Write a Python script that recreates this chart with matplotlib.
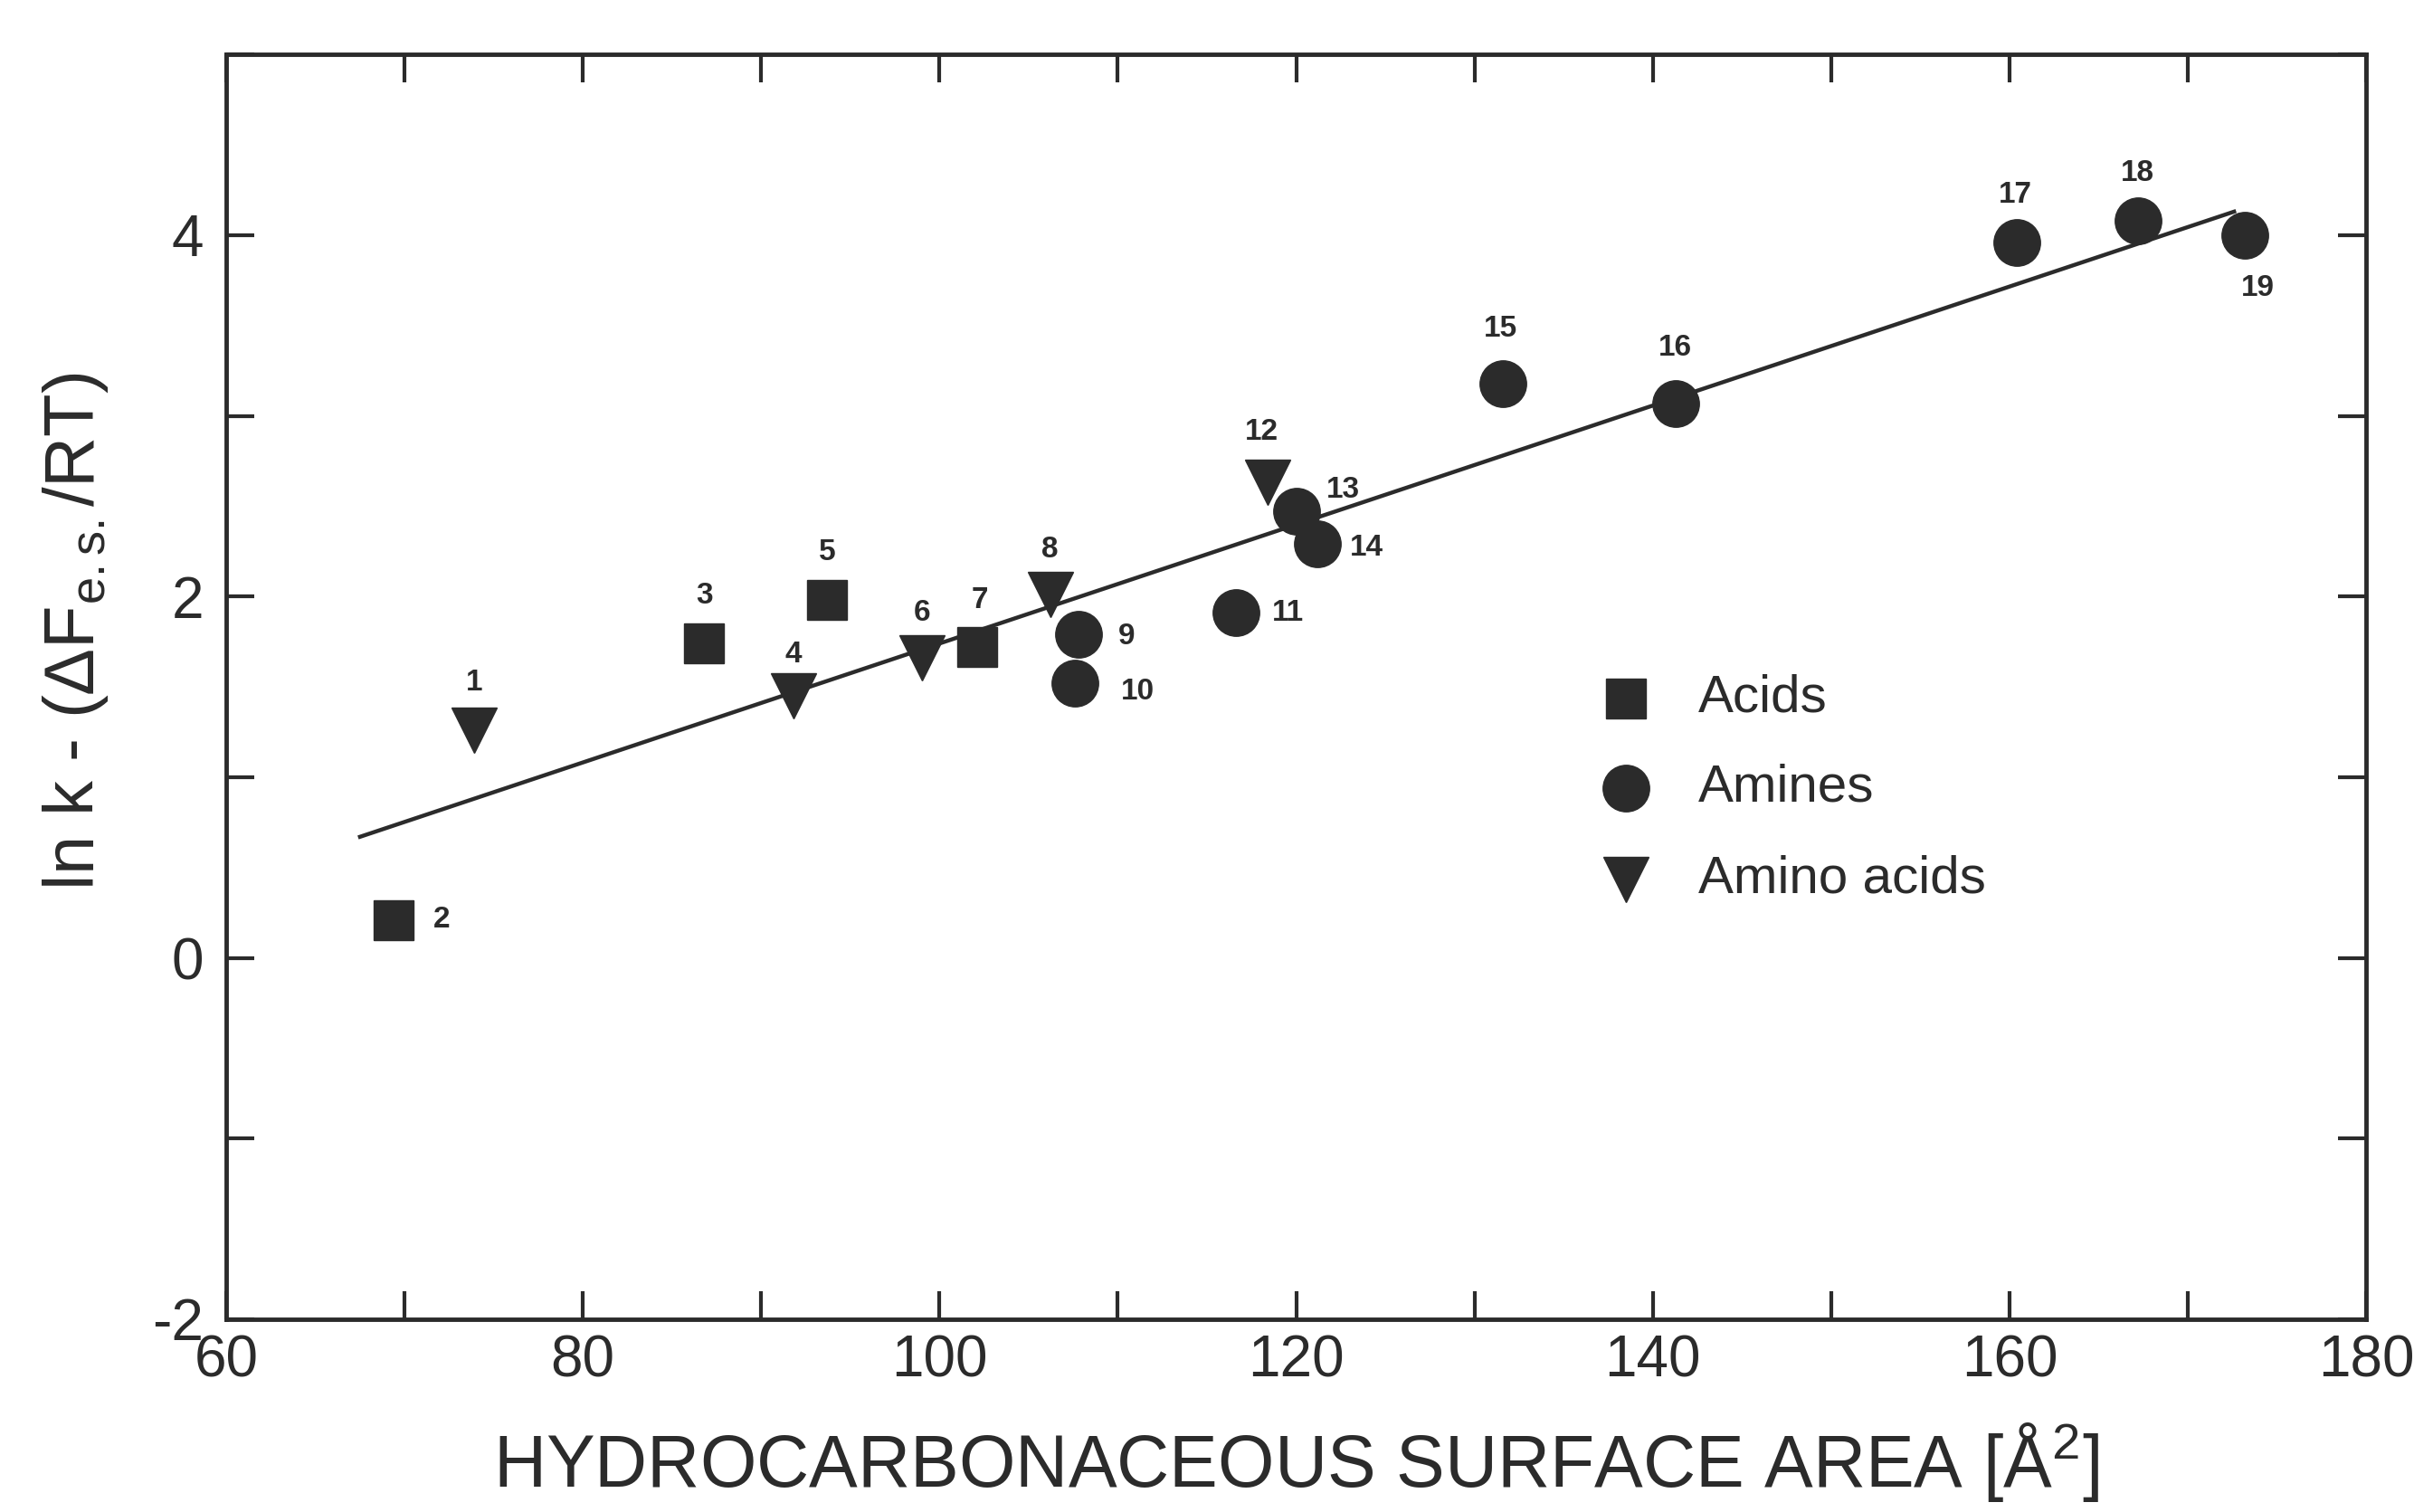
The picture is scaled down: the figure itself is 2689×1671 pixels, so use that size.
import matplotlib
matplotlib.use("Agg")
import matplotlib.pyplot as plt
from matplotlib.ticker import MultipleLocator

plt.rcParams['font.family'] = ['Liberation Sans', 'DejaVu Sans']
plt.rcParams['mathtext.fontset'] = 'custom'
plt.rcParams['mathtext.rm'] = 'Liberation Sans'
plt.rcParams['mathtext.it'] = 'Liberation Sans'
plt.rcParams['axes.unicode_minus'] = False

INK = '#2b2b2b'

# Compound data: surface area (A^2) and ln k - (dF_es/RT)
acid_ids = [2, 3, 5, 7]
acid_x = [69.4, 86.8, 93.7, 102.1]
acid_y = [0.21, 1.74, 1.98, 1.72]

amine_ids = [9, 10, 11, 13, 14, 15, 16, 17, 18, 19]
amine_x = [107.8, 107.6, 116.6, 120.0, 121.2, 131.6, 141.3, 160.4, 167.2, 173.2]
amine_y = [1.79, 1.52, 1.91, 2.47, 2.29, 3.18, 3.07, 3.96, 4.08, 4.00]

amino_ids = [1, 4, 6, 8, 12]
amino_x = [73.9, 91.8, 99.0, 106.2, 118.4]
amino_y = [1.26, 1.45, 1.66, 2.01, 2.63]

fit_x = [67.5, 172.6]
fit_y = [0.67, 4.13]

# where each number sits relative to its marker (points)
label_offsets = {
    1: (0, 38), 2: (38, 0), 3: (0, 38), 4: (0, 33), 5: (0, 38), 6: (0, 36),
    7: (2, 37), 8: (0, 36), 9: (38, -2), 10: (50, -7), 11: (42, 0),
    12: (-5, 40), 13: (37, 17), 14: (39, -3), 15: (-2, 43), 16: (-1, 44),
    17: (-1, 38), 18: (0, 38), 19: (10, -42),
}

fig = plt.figure(figsize=(26.89, 16.71), dpi=100)
ax = fig.add_axes([0.093, 0.1275, 0.8795, 0.8365])

ax.plot(fit_x, fit_y, color=INK, lw=3.2, zorder=2)
ax.plot(acid_x, acid_y, 's', ms=32, color=INK, zorder=3)
ax.plot(amine_x, amine_y, 'o', ms=37, color=INK, zorder=3)
ax.plot(amino_x, amino_y, 'v', ms=36, color=INK, zorder=3)

for ids, xs, ys in [(acid_ids, acid_x, acid_y), (amine_ids, amine_x, amine_y),
                    (amino_ids, amino_x, amino_y)]:
    for i, x, y in zip(ids, xs, ys):
        ax.annotate(str(i), (x, y), xytext=label_offsets[i], textcoords='offset points',
                    ha='center', va='center', fontsize=24, fontweight='bold', color=INK)

# legend drawn by hand like the original
leg_items = [('s', 32, 'Acids'), ('o', 37, 'Amines'), ('v', 36, 'Amino acids')]
leg_y = [0.491, 0.420, 0.348]
for (m, s, txt), ly in zip(leg_items, leg_y):
    ax.plot([0.654], [ly], m, ms=s, color=INK, transform=ax.transAxes, clip_on=False)
    ax.text(0.688, ly, txt, transform=ax.transAxes, fontsize=42, color=INK,
            va='center', ha='left')

ax.set_xlim(60, 180)
ax.set_ylim(-2, 5)
ax.set_xticks([60, 80, 100, 120, 140, 160, 180])
ax.xaxis.set_minor_locator(MultipleLocator(10))
ax.set_yticks([-2, 0, 2, 4])
ax.yaxis.set_minor_locator(MultipleLocator(1))
ax.tick_params(which='both', direction='in', top=True, right=True, color=INK,
               width=3, labelsize=46, labelcolor=INK)
ax.tick_params(which='major', length=22)
ax.tick_params(which='minor', length=22)
ax.tick_params(axis='x', which='major', pad=12)
ax.tick_params(axis='y', which='major', pad=18)
for sp in ax.spines.values():
    sp.set_linewidth(3.5)
    sp.set_color(INK)

ax.set_xlabel(r'HYDROCARBONACEOUS SURFACE AREA [$\mathregular{\AA^2}$]',
              fontsize=58, color=INK)
ax.xaxis.set_label_coords(0.5, -0.08)
ax.set_ylabel(r'ln k - ($\Delta$F$_{\mathregular{e.s.}}$/RT)', fontsize=56, color=INK)
ax.yaxis.set_label_coords(-0.054, 0.544)

fig.savefig('out.png', dpi=100)
